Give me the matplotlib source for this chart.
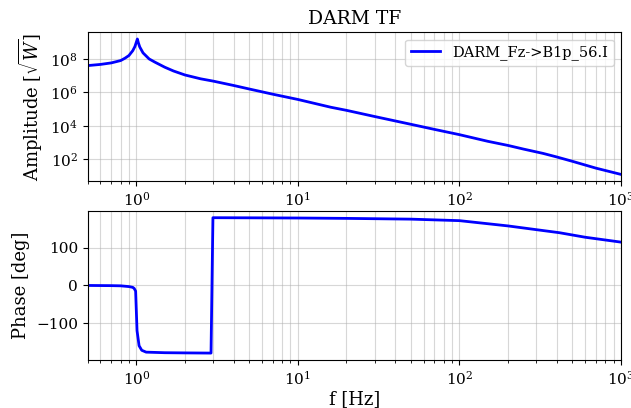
import numpy as np
import matplotlib
matplotlib.use('Agg')
import matplotlib.pyplot as plt
from matplotlib.ticker import NullLocator

plt.rcParams['font.family'] = 'DejaVu Serif'
plt.rcParams['mathtext.fontset'] = 'dejavuserif'

# ── data ─────────────────────────────────────────────────────────────────────
amp_freq = [0.5, 0.6, 0.7, 0.8, 0.85, 0.9, 0.95, 0.98, 1.0, 1.015, 1.03,
            1.05, 1.1, 1.2, 1.3, 1.5, 1.7, 2.0, 2.5, 3.0, 4.0, 5.0, 7.0,
            10.0, 16.0, 20.0, 30.0, 50.0, 70.0, 100.0, 150.0, 200.0, 250.0,
            330.0, 400.0, 500.0, 700.0, 1000.0]
amp = [4.0e7, 4.7e7, 5.8e7, 8.0e7, 1.1e8, 1.6e8, 3.1e8, 5.5e8, 1.0e9,
       1.55e9, 9.0e8, 5.2e8, 2.3e8, 1.0e8, 6.5e7, 3.2e7, 1.9e7, 1.1e7,
       6.5e6, 4.7e6, 2.6e6, 1.6e6, 7.8e5, 3.8e5, 1.3e5, 8.5e4, 3.6e4,
       1.25e4, 6.2e3, 3.0e3, 1.2e3, 6.8e2, 4.1e2, 2.27e2, 1.4e2, 7.7e1,
       3.0e1, 1.27e1]

ph_freq = [0.5, 0.6, 0.7, 0.8, 0.9, 0.95, 0.97, 0.99, 1.01, 1.04, 1.08,
           1.15, 1.5, 2.0, 2.9, 2.98, 5.0, 10.0, 20.0, 50.0, 100.0, 200.0,
           300.0, 416.0, 600.0, 1000.0]
phase = [0.0, -0.3, -0.5, -1.0, -3.0, -5.0, -8.0, -15.0, -120.0, -160.0,
         -172.0, -177.0, -178.5, -179.0, -179.5, 179.8, 179.5, 179.0,
         178.0, 176.0, 172.0, 158.0, 148.0, 140.0, 128.0, 115.0]

amp_ticks = [1e2, 1e4, 1e6, 1e8]
label = 'DARM_Fz->B1p_56.I'

fig, (ax1, ax2) = plt.subplots(2, 1, figsize=(6.31, 4.08), dpi=100)
fig.subplots_adjust(left=0.139, right=0.984, top=0.921, bottom=0.118,
                    hspace=0.2)

# ── amplitude ────────────────────────────────────────────────────────────────
ax1.loglog(amp_freq, amp, color='b', lw=2, label=label)
ax1.set_xlim(0.5, 1000)
ax1.set_yticks(amp_ticks)
ax1.yaxis.set_minor_locator(NullLocator())
ax1.set_ylabel(r'Amplitude [$\sqrt{W}$]', fontsize=13)
ax1.set_title('DARM TF', fontsize=13.5)
ax1.grid(True, which='both', color='#b0b0b0', alpha=0.5, lw=0.8)
ax1.legend(loc='upper right', fontsize=10.5)

# ── phase ────────────────────────────────────────────────────────────────────
ax2.semilogx(ph_freq, phase, color='b', lw=2)
ax2.set_xlim(0.5, 1000)
ax2.set_ylabel('Phase [deg]', fontsize=13)
ax2.set_xlabel('f [Hz]', fontsize=13, labelpad=2)
ax2.grid(True, which='both', color='#b0b0b0', alpha=0.5, lw=0.8)

for ax in (ax1, ax2):
    ax.tick_params(labelsize=11)

plt.savefig('out.png', dpi=100)
